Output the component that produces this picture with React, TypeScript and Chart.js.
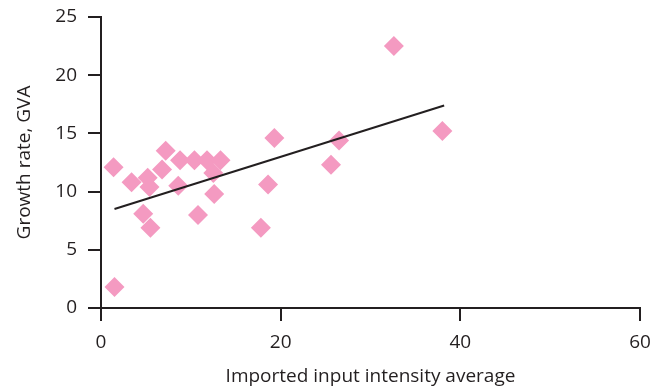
import React, { useEffect, useRef } from "react";
import { Chart, registerables } from "chart.js";

Chart.register(...registerables);

// Imported input intensity average (x) and growth rate, GVA (y)
const xValues = [1.4, 1.5, 3.4, 4.7, 5.2, 5.4, 5.5, 6.8, 7.2, 8.8, 8.6, 10.4, 10.8, 11.8, 12.5, 12.6, 13.3, 17.8, 18.6, 19.3, 25.6, 26.5, 32.6, 38.0];
const yValues = [12.1, 1.8, 10.8, 8.1, 11.2, 10.4, 6.9, 11.9, 13.5, 12.7, 10.5, 12.7, 8.0, 12.7, 11.6, 9.8, 12.7, 6.9, 10.6, 14.6, 12.3, 14.4, 22.5, 15.2];

// Trend line end points
const trendX = [1.5, 38.2];
const trendY = [8.5, 17.4];

const xTicks = [0, 20, 40, 60];
const yTicks = [0, 5, 10, 15, 20, 25];

const xTitle = "Imported input intensity average";
const yTitle = "Growth rate, GVA";

export default function App() {
  const ref = useRef<HTMLCanvasElement>(null);

  useEffect(() => {
    const canvas = ref.current;
    if (!canvas) return;
    const axisColor = "#231f20";
    const family = "'Open Sans', sans-serif";
    const chart = new Chart(canvas, {
      type: "scatter",
      data: {
        datasets: [
          {
            type: "line",
            data: trendX.map((x, i) => ({ x, y: trendY[i] })),
            borderColor: axisColor,
            borderWidth: 2,
            pointRadius: 0,
            fill: false,
            tension: 0,
          },
          {
            data: xValues.map((x, i) => ({ x, y: yValues[i] })),
            pointStyle: "rectRot",
            pointRadius: 10,
            backgroundColor: "#f49ac1",
            borderWidth: 0,
          },
        ],
      } as any,
      options: {
        responsive: false,
        animation: false,
        layout: { padding: { top: 17, right: 21, left: 0, bottom: 0 } },
        plugins: { legend: { display: false }, tooltip: { enabled: false } },
        scales: {
          x: {
            type: "linear",
            min: 0,
            max: 60,
            afterBuildTicks: (s: any) => {
              s.ticks = xTicks.map((v) => ({ value: v }));
            },
            afterFit: (s: any) => {
              s.height = 81;
              s.paddingLeft = 0;
              s.paddingRight = 0;
            },
            grid: {
              display: true,
              drawOnChartArea: false,
              drawTicks: true,
              tickLength: 13,
              color: axisColor,
              lineWidth: 2,
            },
            border: { display: true, color: axisColor, width: 2 },
            ticks: { color: axisColor, font: { family, size: 19 }, padding: 10, maxRotation: 0 },
            title: {
              display: true,
              text: xTitle,
              color: axisColor,
              font: { family, size: 19 },
              padding: { top: 0, bottom: 1 },
            },
          },
          y: {
            type: "linear",
            min: 0,
            max: 25,
            afterBuildTicks: (s: any) => {
              s.ticks = yTicks.map((v) => ({ value: v }));
            },
            afterFit: (s: any) => {
              s.width = 101;
              s.paddingTop = 0;
              s.paddingBottom = 0;
            },
            grid: {
              display: true,
              drawOnChartArea: false,
              drawTicks: true,
              tickLength: 13,
              color: axisColor,
              lineWidth: 2,
            },
            border: { display: true, color: axisColor, width: 2 },
            ticks: { color: axisColor, font: { family, size: 19 }, padding: 11 },
            title: {
              display: true,
              text: yTitle,
              color: axisColor,
              font: { family, size: 19 },
              padding: { top: 13, bottom: 0 },
            },
          },
        },
      } as any,
    });
    return () => chart.destroy();
  }, []);

  return (
    <div style={{ position: "fixed", left: 0, top: 0, width: 661, height: 389, background: "#fff" }}>
      <canvas ref={ref} width={661} height={389} style={{ display: "block" }} />
    </div>
  );
}
